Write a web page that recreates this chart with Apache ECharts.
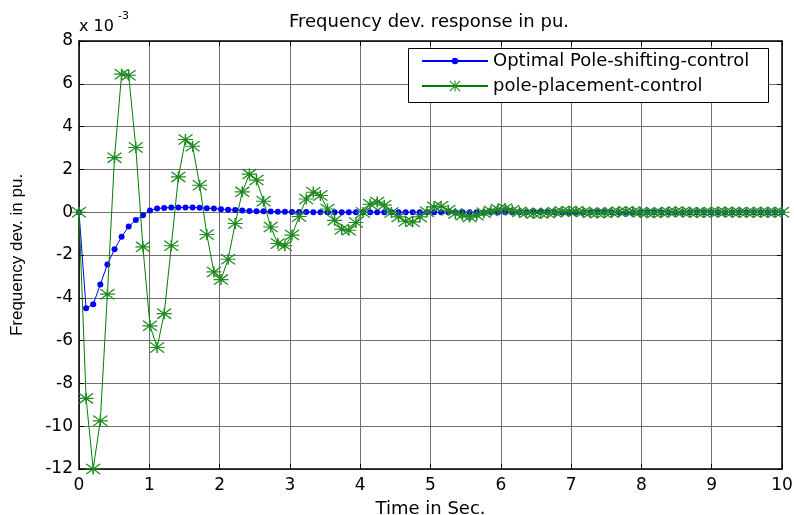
<!DOCTYPE html>
<html><head><meta charset="utf-8">
<script src="https://cdn.jsdelivr.net/npm/echarts@6/dist/echarts.min.js"></script>
<style>html,body{margin:0;padding:0;background:#fff}#c{width:794px;height:515px}</style>
</head><body><div id="c"></div>
<script>
// Sample times (s)
const timeSec = [0, 0.101, 0.202, 0.303, 0.404, 0.505, 0.606, 0.707, 0.808, 0.909,
  1.010, 1.111, 1.212, 1.313, 1.414, 1.515, 1.616, 1.717, 1.818, 1.919,
  2.020, 2.121, 2.222, 2.323, 2.424, 2.525, 2.626, 2.727, 2.828, 2.929,
  3.030, 3.131, 3.232, 3.333, 3.434, 3.535, 3.636, 3.737, 3.838, 3.939,
  4.040, 4.141, 4.242, 4.343, 4.444, 4.545, 4.646, 4.747, 4.848, 4.949,
  5.051, 5.152, 5.253, 5.354, 5.455, 5.556, 5.657, 5.758, 5.859, 5.960,
  6.061, 6.162, 6.263, 6.364, 6.465, 6.566, 6.667, 6.768, 6.869, 6.970,
  7.071, 7.172, 7.273, 7.374, 7.475, 7.576, 7.677, 7.778, 7.879, 7.980,
  8.081, 8.182, 8.283, 8.384, 8.485, 8.586, 8.687, 8.788, 8.889, 8.990,
  9.091, 9.192, 9.293, 9.394, 9.495, 9.596, 9.697, 9.798, 9.899, 10.0];

// Frequency deviation (x 10^-3 pu)
const optimalPoleShifting = [0, -4.49, -4.3, -3.38, -2.44, -1.73, -1.15, -0.67, -0.37, -0.14,
  0.08, 0.17, 0.2, 0.22, 0.22, 0.22, 0.22, 0.21, 0.19, 0.17,
  0.14, 0.12, 0.1, 0.08, 0.06, 0.05, 0.04, 0.03, 0.02, 0.02,
  0.01, 0.01, 0.01, 0, 0, 0, 0, 0, 0, 0,
  0, 0, 0, 0, 0, 0, 0, 0, 0, 0,
  0, 0, 0, 0, 0, 0, 0, 0, 0, 0,
  0, 0, 0, 0, 0, 0, 0, 0, 0, 0,
  0, 0, 0, 0, 0, 0, 0, 0, 0, 0,
  0, 0, 0, 0, 0, 0, 0, 0, 0, 0,
  0, 0, 0, 0, 0, 0, 0, 0, 0, 0];

const polePlacement = [0, -8.7, -12.0, -9.75, -3.83, 2.55, 6.45, 6.4, 3.02, -1.62,
  -5.31, -6.32, -4.74, -1.57, 1.65, 3.4, 3.08, 1.26, -1.04, -2.79,
  -3.15, -2.2, -0.53, 0.95, 1.78, 1.5, 0.51, -0.69, -1.46, -1.57,
  -1.07, -0.2, 0.62, 0.93, 0.78, 0.15, -0.38, -0.8, -0.84, -0.48,
  -0.01, 0.37, 0.48, 0.33, -0.01, -0.22, -0.42, -0.45, -0.22, 0.02,
  0.25, 0.28, 0.09, -0.06, -0.14, -0.22, -0.14, -0.03, 0.06, 0.14,
  0.17, 0.09, 0.01, -0.03, -0.06, -0.05, -0.04, 0.0, 0.03, 0.05,
  0.04, 0.01, -0.02, -0.04, -0.03, -0.01, 0.02, 0.03, 0.02, 0.0,
  -0.02, -0.02, -0.01, 0.01, 0.02, 0.01, 0.0, -0.01, -0.01, 0.0,
  0.01, 0.01, 0.0, 0.0, -0.01, 0.0, 0.0, 0.0, 0.0, 0.0];

const seriesNames = ['Optimal Pole-shifting-control', 'pole-placement-control'];
const xRange = [0, 10, 1];
const yRange = [-12, 8, 2];

const FONT = 'DejaVu Sans';
const STAR = 'path://M0 9H20V11H0Z M9 0H11V20H9Z M1.4 0L20 18.6L18.6 20L0 1.4Z M18.6 0L20 1.4L1.4 20L0 18.6Z';

const pairs = (ys) => timeSec.map((t, i) => [t, ys[i]]);

const chart = echarts.init(document.getElementById('c'), null, {renderer: 'canvas'});
const axisLineStyle = {color: '#000', width: 1.5};
const xBase = {type: 'value', min: xRange[0], max: xRange[1], interval: xRange[2], gridIndex: 0};
const yBase = {type: 'value', min: yRange[0], max: yRange[1], interval: yRange[2], gridIndex: 0};

chart.setOption({
  animation: false,
  backgroundColor: '#fff',
  title: {
    text: 'Frequency dev. response in pu.',
    left: 424, top: 8, textAlign: 'center',
    textStyle: {fontFamily: FONT, fontSize: 18, fontWeight: 'normal', color: '#000'}
  },
  grid: {left: 79, right: 12, top: 41, bottom: 46, containLabel: false, outerBoundsMode: 'none'},
  xAxis: [
    Object.assign({}, xBase, {
      position: 'bottom',
      axisLine: {onZero: false, lineStyle: axisLineStyle},
      axisTick: {inside: true, length: 5, lineStyle: {color: '#000'}},
      axisLabel: {color: '#000', fontFamily: FONT, fontSize: 17, margin: 8},
      splitLine: {show: true, lineStyle: {color: '#707070', width: 1}},
      name: 'Time in Sec.', nameLocation: 'middle', nameGap: 31,
      nameTextStyle: {fontFamily: FONT, fontSize: 18, color: '#000'}
    }),
    Object.assign({}, xBase, {
      position: 'top',
      axisLine: {onZero: false, lineStyle: axisLineStyle},
      axisTick: {inside: true, length: 5, lineStyle: {color: '#000'}},
      axisLabel: {show: false},
      splitLine: {show: false}
    })
  ],
  yAxis: [
    Object.assign({}, yBase, {
      position: 'left',
      axisLine: {onZero: false, lineStyle: axisLineStyle},
      axisTick: {inside: true, length: 5, lineStyle: {color: '#000'}},
      axisLabel: {color: '#000', fontFamily: FONT, fontSize: 17, margin: 6},
      splitLine: {show: true, lineStyle: {color: '#707070', width: 1}},
      name: 'Frequency dev. in pu.', nameLocation: 'middle', nameGap: 53, nameRotate: 90,
      nameTextStyle: {fontFamily: 'Liberation Sans', fontSize: 17, color: '#000'}
    }),
    Object.assign({}, yBase, {
      position: 'right',
      axisLine: {onZero: false, lineStyle: axisLineStyle},
      axisTick: {inside: true, length: 5, lineStyle: {color: '#000'}},
      axisLabel: {show: false},
      splitLine: {show: false}
    })
  ],
  legend: [
    {
      data: [seriesNames[0]], left: 421, top: 52, padding: 0,
      itemWidth: 66, itemHeight: 8, itemGap: 0,
      textStyle: {fontFamily: FONT, fontSize: 18, color: '#000'}
    },
    {
      data: [seriesNames[1]], left: 421, top: 77, padding: 0,
      itemWidth: 66, itemHeight: 14, itemGap: 0,
      textStyle: {fontFamily: FONT, fontSize: 18, color: '#000'}
    }
  ],
  graphic: [
    {type: 'rect', left: 408, top: 48, z: 3, shape: {width: 360, height: 54},
     style: {fill: '#fff', stroke: '#000', lineWidth: 1}},
    {type: 'text', left: 79, top: 19, z: 3,
     style: {text: 'x 10', fill: '#000', font: '16px "DejaVu Sans"'}},
    {type: 'text', left: 118, top: 11, z: 3,
     style: {text: '-3', fill: '#000', font: '11px "DejaVu Sans"'}}
  ],
  series: [
    {
      name: seriesNames[0], type: 'line', data: pairs(optimalPoleShifting),
      symbol: 'circle', symbolSize: 6, showSymbol: true,
      lineStyle: {color: '#0000ff', width: 1}, itemStyle: {color: '#0000ff'}, z: 2
    },
    {
      name: seriesNames[1], type: 'line', data: pairs(polePlacement),
      symbol: STAR, symbolSize: [15, 11], showSymbol: true,
      lineStyle: {color: '#008000', width: 1}, itemStyle: {color: '#1f8a1f'}, z: 3
    }
  ]
});
</script></body></html>
